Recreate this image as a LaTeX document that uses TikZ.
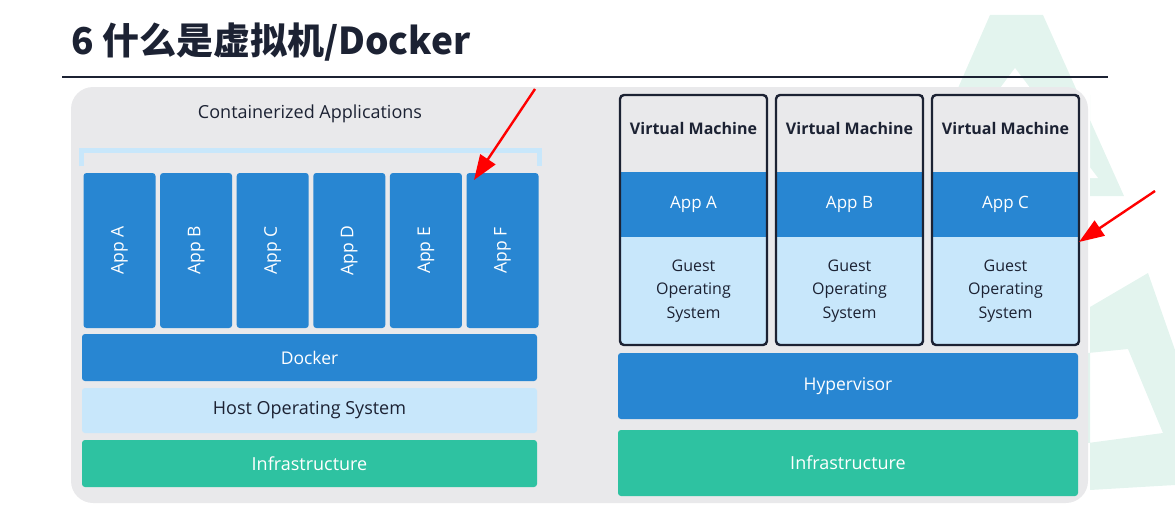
\documentclass[tikz,border=0pt]{standalone}
\usepackage{fontspec}
\setmainfont{Open Sans}
\newfontfamily\cjk{Noto Sans CJK SC}
\usepackage{xcolor}
\usetikzlibrary{arrows.meta,positioning}
\definecolor{panel}{HTML}{E9E9EB}
\definecolor{appblue}{HTML}{2886D2}
\definecolor{oslight}{HTML}{C8E7FB}
\definecolor{infragreen}{HTML}{2EC2A1}
\definecolor{inkdark}{HTML}{1C2233}
\definecolor{mint}{HTML}{E3F4EE}
\begin{document}
\begin{tikzpicture}[x=1pt, y=-1pt,
    bar/.style={rectangle, rounded corners=3pt, inner sep=0pt, align=center,
      font=\fontsize{17.5}{22}\selectfont},
    bluebar/.style={bar, fill=appblue, text=white},
    osbar/.style={bar, fill=oslight, text=inkdark},
    infrabar/.style={bar, fill=infragreen, text=white},
    vmframe/.style={rectangle, draw=inkdark, line width=2.4pt, rounded corners=4pt,
      minimum width=147pt, minimum height=250pt, inner sep=0pt},
    redarrow/.style={draw=red, line width=2.4pt, -{Triangle[length=25pt,width=18pt]}}]
    \useasboundingbox (0,0) rectangle (1175,511);
    % watermark
    \fill[mint] (990,15) -- (1043,15) -- (1124,196) -- (1090,196) -- (1090,95) -- (955,95) -- cycle;
    \fill[white] (1015,68) -- (1098,178) -- (1090,178) -- (1090,95) -- (995,95) -- cycle;
    \fill[mint, even odd rule] (1090,307) -- (1148,273) -- (1175,350) -- (1175,485) -- (1090,490) -- cycle
      (1088,353) -- (1128,349) -- (1163,433) -- (1088,443) -- cycle;
    % title
    \node[anchor=west, inner sep=0pt, text=inkdark, font=\cjk\bfseries\fontsize{37}{40}\selectfont]
      (title) at (71,42) {6 什么是虚拟机/Docker};
    \draw[inkdark, line width=1.2pt] (62,77) -- (1108,77);
    \draw[inkdark, line width=2.6pt] (62,77) -- (210,77);
    % panel
    \fill[panel, rounded corners=22pt] (71,87) rectangle (1088,503);
    % containers
    \node[text=inkdark, font=\fontsize{18}{22}\selectfont] (capps) at (310,114) {Containerized Applications};
    \draw[oslight, line width=5pt] (81,166) -- (81,150.5) -- (539,150.5) -- (539,166);
    \foreach \i/\l in {0/A,1/B,2/C,3/D,4/E,5/F}
      \node[bluebar, rotate=90, minimum width=155pt, minimum height=72pt]
        (app\l) at (119.5+76.6*\i,250.5) {App \l};
    \node[bluebar, minimum width=455pt, minimum height=47pt] (docker) at (309.5,357.5) {Docker};
    \node[osbar, font=\fontsize{18}{22}\selectfont, minimum width=455pt, minimum height=45pt] (hostos) at (309.5,410.5) {Host Operating System};
    \node[infrabar, font=\fontsize{18}{22}\selectfont, minimum width=455pt, minimum height=47pt] (infraL) at (309.5,463.5) {Infrastructure};
    % virtual machines
    \foreach \i/\l in {0/A,1/B,2/C}{
      \pgfmathsetmacro{\vx}{693.5+156*\i}
      \fill[oslight, rounded corners=4pt] (\vx-73.5,172) rectangle (\vx+73.5,345);
      \node[bar, fill=appblue, text=white, rounded corners=0pt, font=\fontsize{17}{22}\selectfont,
        minimum width=147pt, minimum height=65pt] (vmapp\l) at (\vx,204.5) {App \l};
      \node[text=inkdark, align=center, font=\fontsize{16}{23.5}\selectfont] (guest\l) at (\vx,291) {Guest\\Operating\\System};
      \node[vmframe] (vm\l) at (\vx,220) {};
      \node[text=inkdark, font=\bfseries\fontsize{16}{18}\selectfont] (vmtitle\l) at (\vx,128) {Virtual Machine};
    }
    \node[bluebar, minimum width=460pt, minimum height=66pt] (hyper) at (848,386) {Hypervisor};
    \node[infrabar, font=\fontsize{18}{22}\selectfont, minimum width=460pt, minimum height=66pt] (infraR) at (848,463) {Infrastructure};
    % red arrows
    \coordinate (tailF) at (535,89);
    \coordinate (tipF) at (474,180);
    \coordinate (tailC) at (1155,191);
    \coordinate (tipC) at (1079,242);
    \draw[redarrow] (tailF) -- (tipF);
    \draw[redarrow] (tailC) -- (tipC);
\end{tikzpicture}
\end{document}
